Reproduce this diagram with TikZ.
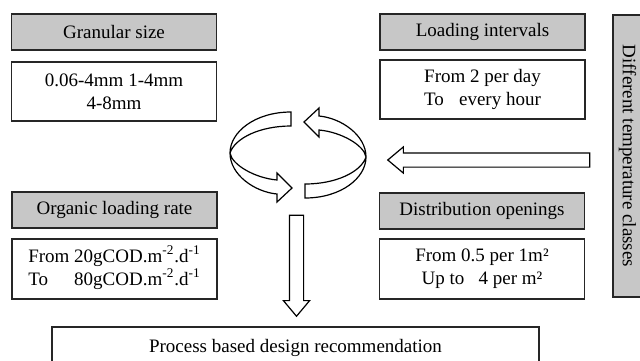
\documentclass[tikz,border=0pt]{standalone}
\usepackage{fontspec}
\setmainfont{Liberation Serif}
\usepackage{tikz}
\usetikzlibrary{shapes.arrows}

\begin{document}
\begin{tikzpicture}[x=0.5pt,y=-0.5pt,
		font=\fontsize{9.5}{11.5}\selectfont]
	\useasboundingbox (0,0) rectangle (640,360);

	\begin{scope}[every node/.style={draw=black!85,line width=0.8pt,inner sep=0pt,align=center,
				minimum width=102.5pt}]
		% headers: grey boxes
		\node[fill=black!22,minimum height=18pt] (granhead) at (114,32) {Granular size};
		\node[fill=black!22,minimum height=18pt] (loadhead) at (482.5,32) {Loading intervals};
		\node[fill=black!22,minimum height=18pt] (orghead) at (114.5,210) {Organic loading rate};
		\node[fill=black!22,minimum height=18pt] (disthead) at (482,211) {Distribution openings};
		% values below each header
		\node[minimum height=29.5pt] (granval) at (114,91.5) {0.06-4mm 1-4mm\\4-8mm};
		\node[minimum height=29.5pt] (loadval) at (482.5,89.5) {From 2 per day\\To\hspace{0.8em}every hour};
		\node[minimum height=30pt] (orgval) at (114.5,269)
			{\begin{tabular}{@{}l@{ }l@{}}From & 20gCOD.m\textsuperscript{-2}.d\textsuperscript{-1}\\
			To & 80gCOD.m\textsuperscript{-2}.d\textsuperscript{-1}\end{tabular}};
		\node[minimum height=30pt] (distval) at (482,269) {From 0.5 per 1m²\\Up to\hspace{0.75em}4 per m²};
		% side box and result
		\node[fill=black!22,minimum width=141pt,minimum height=14.5pt,rotate=-90]
			(temp) at (627.5,156) {Different temperature classes};
		\node[minimum width=243.5pt,minimum height=21pt] (design) at (295.5,348)
			{Process based design recommendation};
	\end{scope}

	\begin{scope}[every node/.style={single arrow,draw=black,line width=0.6pt,fill=white,
				inner sep=3.25pt,single arrow head extend=3pt,single arrow tip angle=80}]
		\node[minimum height=101pt,shape border rotate=180] (tempin) at (493,160) {};
		\node[minimum height=50.5pt,shape border rotate=270] (todesign) at (296.5,261.5) {};
	\end{scope}

	% turning ribbons in the middle
	\foreach \ang in {0,180}
		\draw[line width=0.6pt,fill=white,rotate around={\ang:(298,155)}]
			(291,112) .. controls (255,112) and (230,132) .. (230,153)
			.. controls (230,175) and (255,192) .. (277,194)
			-- (277,202) -- (292,188) -- (277,173) -- (277,180)
			.. controls (255,178) and (232,165) .. (230,153)
			.. controls (235,138) and (260,126) .. (291,126) -- cycle;
\end{tikzpicture}
\end{document}
